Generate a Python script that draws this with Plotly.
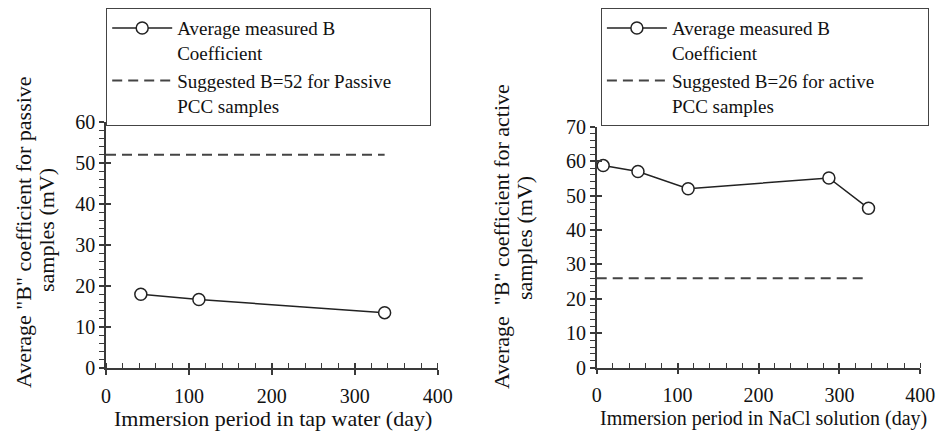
import plotly.graph_objects as go

# Left chart: tap water (passive)
tap_days = [42, 112, 336]
tap_B = [18.0, 16.7, 13.5]
tap_suggest_days = [0, 336]
tap_suggest_B = [52, 52]

# Right chart: NaCl solution (active)
nacl_days = [8, 51, 113, 287, 336]
nacl_B = [58.7, 57.0, 52.0, 55.1, 46.3]
nacl_suggest_days = [0, 336]
nacl_suggest_B = [26, 26]

FONT = "Liberation Serif"
INK = "#222222"
AX = "#3a3a3a"
FS = 20
PAD = "&nbsp;"

fig = go.Figure()

def add_series(xs, ys, sx, sy, xa, ya, leg, sname):
    fig.add_trace(go.Scatter(
        x=xs, y=ys, mode="lines+markers", name="Average measured B<br>Coefficient",
        line=dict(color=INK, width=1.5),
        marker=dict(symbol="circle", size=12, color="white", line=dict(color=INK, width=1.5)),
        xaxis=xa, yaxis=ya, legend=leg, cliponaxis=False))
    fig.add_trace(go.Scatter(
        x=sx, y=sy, mode="lines", name=sname,
        line=dict(color="#444444", width=2, dash="10px,6px"),
        xaxis=xa, yaxis=ya, legend=leg))

add_series(tap_days, tap_B, tap_suggest_days, tap_suggest_B, "x", "y", "legend",
           "Suggested B=52 for Passive" + PAD * 7 + "<br>PCC samples")
add_series(nacl_days, nacl_B, nacl_suggest_days, nacl_suggest_B, "x2", "y2", "legend2",
           "Suggested B=26 for active" + PAD * 10 + "<br>PCC samples")

# invisible traces for overlay axes (inside half of crossing major ticks)
fig.add_trace(go.Scatter(x=tap_days, y=tap_B, mode="none", xaxis="x3", yaxis="y3",
                         showlegend=False, hoverinfo="skip"))
fig.add_trace(go.Scatter(x=nacl_days, y=nacl_B, mode="none", xaxis="x4", yaxis="y4",
                         showlegend=False, hoverinfo="skip"))

LX = [106/936, 437.7/936]
LY = [1-368/434, 1-122/434]
RX = [596.7/936, 920.3/936]
RY = [1-367.7/434, 1-126.7/434]

tickfont = dict(family=FONT, size=FS, color="#111111")

def xax(domain, anchor, rng):
    return dict(domain=domain, anchor=anchor, range=rng, dtick=100, tick0=0,
                showgrid=False, zeroline=False, showline=True, linecolor=AX, linewidth=1.5,
                ticks="outside", ticklen=5, tickwidth=1.5, tickcolor=AX,
                minor=dict(dtick=20, ticks="inside", ticklen=5, tickwidth=1.2, tickcolor=AX, showgrid=False),
                tickfont=tickfont, ticklabelstandoff=4, fixedrange=True)

def yax(domain, anchor, rng):
    return dict(domain=domain, anchor=anchor, range=rng, dtick=10, tick0=0,
                showgrid=False, zeroline=False, showline=True, linecolor=AX, linewidth=1.5,
                ticks="outside", ticklen=5, tickwidth=1.5, tickcolor=AX,
                minor=dict(dtick=2, ticks="outside", ticklen=5, tickwidth=1.2, tickcolor=AX, showgrid=False),
                tickfont=tickfont, fixedrange=True)

def ovx(over, anchor, rng):
    return dict(overlaying=over, anchor=anchor, range=rng, dtick=100, tick0=0, side="bottom",
                showgrid=False, zeroline=False, showline=False, showticklabels=False,
                ticks="inside", ticklen=5, tickwidth=1.5, tickcolor=AX, fixedrange=True)

def ovy(over, anchor, rng):
    return dict(overlaying=over, anchor=anchor, range=rng, dtick=10, tick0=0, side="left",
                showgrid=False, zeroline=False, showline=False, showticklabels=False,
                ticks="inside", ticklen=5, tickwidth=1.5, tickcolor=AX, fixedrange=True)

legstyle = dict(font=dict(family=FONT, size=19, color="#111111"), bgcolor="white",
                bordercolor="#444444", borderwidth=1.2, xanchor="left", yanchor="top",
                valign="top", tracegroupgap=0, itemwidth=60)

def ann(text, x, y, size, angle=0):
    return dict(text=text, x=x/936, y=1-y/434, xref="paper", yref="paper", showarrow=False,
                xanchor="center", yanchor="middle", textangle=angle,
                font=dict(family=FONT, size=size, color="#111111"))

fig.update_layout(
    width=936, height=434, margin=dict(l=0, r=0, t=0, b=0, autoexpand=False),
    paper_bgcolor="white", plot_bgcolor="white",
    font=dict(family=FONT, size=FS, color="#111111"),
    xaxis=xax(LX, "y", [0, 400]),
    yaxis=yax(LY, "x", [0, 60]),
    xaxis2=xax(RX, "y2", [0, 400]),
    yaxis2=yax(RY, "x2", [0, 70]),
    xaxis3=ovx("x", "y3", [0, 400]),
    yaxis3=ovy("y", "x3", [0, 60]),
    xaxis4=ovx("x2", "y4", [0, 400]),
    yaxis4=ovy("y2", "x4", [0, 70]),
    legend=dict(x=106/936, y=1-8/434, **legstyle),
    legend2=dict(x=600.7/936, y=1-8/434, **legstyle),
    showlegend=True,
    annotations=[
        ann("Immersion period in tap water (day)", 273, 418, 22),
        ann("Immersion period in NaCl solution (day)", 763, 418, 20),
        ann("Average \"B\" coefficient for passive", 23, 232, 22, -90),
        ann("samples (mV)", 46, 230, 22, -90),
        ann("Average  \"B\" coefficient for active", 501, 237, 22, -90),
        ann("samples (mV)", 525, 238, 22, -90),
    ],
)

fig.write_html("out.html", config={"displayModeBar": False},
               post_script="document.body.style.margin='0';")
